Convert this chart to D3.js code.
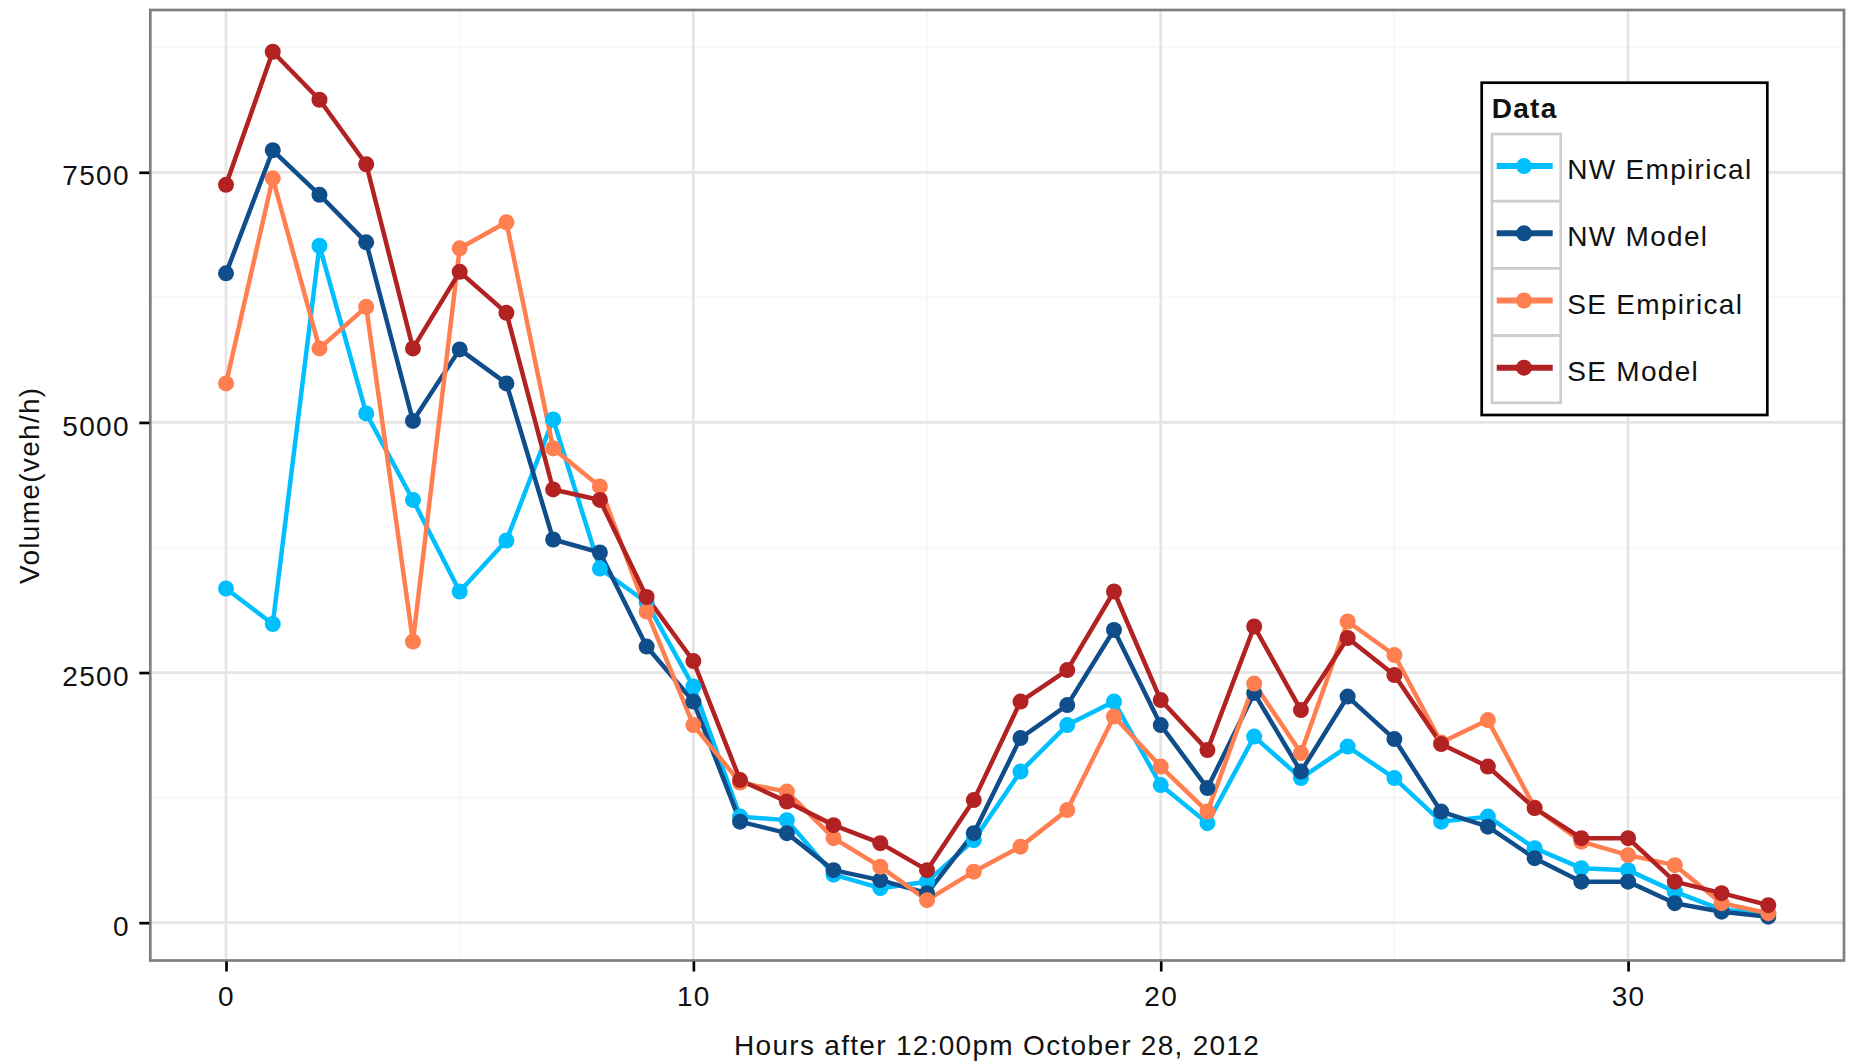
<!DOCTYPE html>
<html lang="en">
<head>
<meta charset="UTF-8">
<title>Volume by hour</title>
<script src="https://cdn.jsdelivr.net/npm/d3@7"></script>
<style>
  body { margin: 0; background: #fff; }
  svg text { font-family: 'Liberation Sans', Arial, sans-serif; font-size: 28px; letter-spacing: 1.3px; fill: #111; }
</style>
</head>
<body>
<svg id="chart" width="1850" height="1061"></svg>
<script>
// hours after 12:00pm Oct 28, 2012
const hours = [0, 1, 2, 3, 4, 5, 6, 7, 8, 9, 10, 11, 12, 13, 14, 15, 16,
               17, 18, 19, 20, 21, 22, 23, 24, 25, 26, 27, 28, 29, 30, 31, 32, 33];

const nwEmpirical = [3340, 2985, 6765, 5090, 4225, 3310, 3820, 5030, 3540, 3200, 2360, 1060,
                     1025, 480, 345, 410, 825, 1510, 1975, 2210, 1375, 995, 1860, 1445,
                     1760, 1445, 1010, 1060, 745, 545, 525, 310, 130, 95];
const nwModel = [6490, 7720, 7275, 6800, 5015, 5730, 5390, 3830, 3700, 2760, 2210, 1010,
                 895, 525, 425, 295, 895, 1845, 2175, 2925, 1975, 1345, 2295, 1510,
                 2260, 1835, 1110, 960, 645, 410, 410, 195, 110, 60];
const seEmpirical = [5390, 7440, 5740, 6155, 2810, 6740, 7000, 4740, 4360, 3110, 1975, 1400,
                     1310, 845, 560, 225, 510, 760, 1125, 2060, 1560, 1110, 2390, 1695,
                     3010, 2675, 1800, 2025, 1150, 810, 675, 575, 195, 95];
const seModel = [7375, 8705, 8225, 7580, 5740, 6505, 6095, 4330, 4225, 3255, 2615, 1425,
                 1210, 975, 795, 525, 1225, 2210, 2525, 3310, 2225, 1725, 2960, 2125,
                 2845, 2475, 1785, 1560, 1145, 845, 845, 410, 295, 175];

const seriesNames = ["NW Empirical", "NW Model", "SE Empirical", "SE Model"];
const seriesValues = [nwEmpirical, nwModel, seEmpirical, seModel];
const seriesColors = ["#00BFFF", "#104E8B", "#FF7F50", "#B22222"];

const xTicks = [0, 10, 20, 30];
const xMinor = [5, 15, 25];
const yTicks = [0, 2500, 5000, 7500];
const yMinor = [1250, 3750, 6250, 8750];

const svg = d3.select("#chart");
const pLeft = 150.3, pRight = 1844, pTop = 10, pBottom = 960.5;

const x = d3.scaleLinear().domain([-1.62, 34.62]).range([pLeft, pRight]);
const y = d3.scaleLinear().domain([-378, 9122]).range([pBottom, pTop]);

// panel + grid
svg.append("rect").attr("x", pLeft).attr("y", pTop)
    .attr("width", pRight - pLeft).attr("height", pBottom - pTop).attr("fill", "#fff");

const grid = svg.append("g");
grid.selectAll(".vminor").data(xMinor).enter().append("line")
    .attr("x1", d => x(d)).attr("x2", d => x(d)).attr("y1", pTop).attr("y2", pBottom)
    .attr("stroke", "#F7F7F7").attr("stroke-width", 2);
grid.selectAll(".hminor").data(yMinor).enter().append("line")
    .attr("x1", pLeft).attr("x2", pRight).attr("y1", d => y(d)).attr("y2", d => y(d))
    .attr("stroke", "#F7F7F7").attr("stroke-width", 2);
grid.selectAll(".vmajor").data(xTicks).enter().append("line")
    .attr("x1", d => x(d)).attr("x2", d => x(d)).attr("y1", pTop).attr("y2", pBottom)
    .attr("stroke", "#E5E5E5").attr("stroke-width", 2.7);
grid.selectAll(".hmajor").data(yTicks).enter().append("line")
    .attr("x1", pLeft).attr("x2", pRight).attr("y1", d => y(d)).attr("y2", d => y(d))
    .attr("stroke", "#E5E5E5").attr("stroke-width", 2.7);

// lines, then points on top
const line = d3.line().x((d, i) => x(hours[i])).y(d => y(d));

svg.append("g").selectAll("path").data(seriesValues).enter().append("path")
    .attr("d", line)
    .attr("fill", "none")
    .attr("stroke", (d, i) => seriesColors[i])
    .attr("stroke-width", 4.5)
    .attr("stroke-linejoin", "round");

seriesValues.forEach((vals, s) => {
    svg.append("g").selectAll("circle").data(vals).enter().append("circle")
        .attr("cx", (d, i) => x(hours[i]))
        .attr("cy", d => y(d))
        .attr("r", 8)
        .attr("fill", seriesColors[s]);
});

// panel border
svg.append("rect").attr("x", pLeft).attr("y", pTop)
    .attr("width", pRight - pLeft).attr("height", pBottom - pTop)
    .attr("fill", "none").attr("stroke", "#7F7F7F").attr("stroke-width", 2.7);

// axes
const xAxis = svg.append("g").attr("transform", `translate(0,${pBottom + 1})`)
    .call(d3.axisBottom(x).tickValues(xTicks).tickSize(10).tickFormat(d3.format("d")));
xAxis.select(".domain").remove();
xAxis.selectAll(".tick line").attr("stroke", "#000").attr("stroke-width", 2.7);
xAxis.selectAll(".tick text").attr("y", 44.5).attr("dy", null);

const yAxis = svg.append("g").attr("transform", `translate(${pLeft - 1},0)`)
    .call(d3.axisLeft(y).tickValues(yTicks).tickSize(10).tickFormat(d3.format("d")));
yAxis.select(".domain").remove();
yAxis.selectAll(".tick line").attr("stroke", "#000").attr("stroke-width", 2.7);
yAxis.selectAll(".tick text").attr("x", -19.5).attr("dy", null).attr("y", 12.7);

// d3 axes put font attrs on the group, clear them so the css applies
svg.selectAll("g").attr("font-size", null).attr("font-family", null);
svg.selectAll(".tick text").style("fill", "#111");

svg.append("text").attr("x", (pLeft + pRight) / 2).attr("y", 1055)
    .attr("text-anchor", "middle").text("Hours after 12:00pm October 28, 2012");
svg.append("text").attr("transform", `translate(39,${(pTop + pBottom) / 2}) rotate(-90)`)
    .attr("text-anchor", "middle").text("Volume(veh/h)");

// legend
const lg = svg.append("g");
lg.append("rect").attr("x", 1481.7).attr("y", 82.7).attr("width", 285.6).attr("height", 332.3)
    .attr("fill", "#fff").attr("stroke", "#000").attr("stroke-width", 2.7);
lg.append("text").attr("x", 1491.7).attr("y", 118.3).attr("font-weight", "bold").text("Data");

const keyH = 67.2, keyTop = 134;
seriesNames.forEach((name, i) => {
    const cy = keyTop + keyH * i + keyH / 2;
    lg.append("rect").attr("x", 1492).attr("y", keyTop + keyH * i)
        .attr("width", 68.7).attr("height", keyH)
        .attr("fill", "#fff").attr("stroke", "#CCCCCC").attr("stroke-width", 2.7);
    lg.append("line").attr("x1", 1496.7).attr("x2", 1552.7).attr("y1", cy - 1.5).attr("y2", cy - 1.5)
        .attr("stroke", seriesColors[i]).attr("stroke-width", 6);
    lg.append("circle").attr("cx", 1524).attr("cy", cy - 1.5).attr("r", 8)
        .attr("fill", seriesColors[i]);
    lg.append("text").attr("x", 1567.3).attr("y", cy + 11.5).text(name);
});
</script>
</body>
</html>
